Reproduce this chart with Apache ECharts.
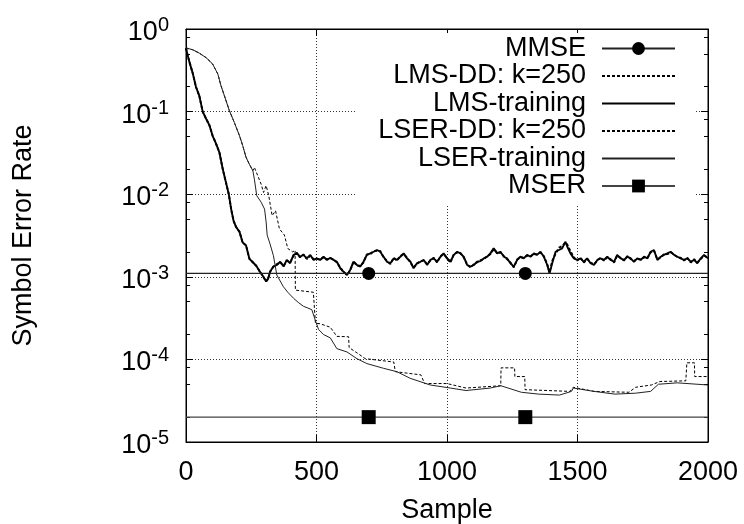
<!DOCTYPE html>
<html>
<head>
<meta charset="utf-8">
<script src="https://cdn.jsdelivr.net/npm/echarts@6/dist/echarts.min.js"></script>
<style>
    html, body { margin: 0; padding: 0; background: #fff; }
    #grafico { width: 744px; height: 524px; }
</style>
</head>
<body>
<div id="grafico"></div>
<script>
// amostras e taxas
const lmsX = [
    0, 5, 13, 26, 38, 51, 64, 77, 90, 102,
    115, 128, 141, 153, 164, 173, 182, 192, 205, 217,
    230, 243, 256, 269, 281, 294, 307, 315, 322, 335,
    348, 361, 374, 386, 399, 412, 425, 437, 450, 463,
    476, 489, 501, 514, 527, 540, 553, 565, 578, 591,
    604, 617, 629, 642, 655, 668, 680, 693, 706, 719,
    732, 744, 757, 770, 783, 796, 808, 821, 834, 847,
    860, 872, 885, 898, 911, 924, 936, 949, 962, 975,
    987, 1000, 1013, 1026, 1039, 1051, 1064, 1077, 1090, 1103,
    1115, 1128, 1141, 1154, 1166, 1179, 1192, 1205, 1218, 1230,
    1243, 1256, 1269, 1281, 1294, 1307, 1320, 1333, 1345, 1358,
    1371, 1384, 1393, 1403, 1416, 1429, 1441, 1454, 1461, 1473,
    1486, 1499, 1512, 1524, 1537, 1550, 1563, 1576, 1588, 1601,
    1614, 1627, 1640, 1652, 1665, 1678, 1691, 1704, 1716, 1729,
    1742, 1755, 1768, 1780, 1793, 1806, 1819, 1831, 1844, 1857,
    1870, 1883, 1895, 1908, 1921, 1934, 1947, 1959, 1972, 1985,
    2000
]
const lmsTreino = [
    0.59, 0.50, 0.40, 0.29, 0.20, 0.155, 0.10, 0.082, 0.068, 0.051,
    0.041, 0.032, 0.020, 0.0139, 0.010, 0.0066, 0.0048, 0.0040, 0.0035, 0.0026,
    0.0024, 0.00165, 0.0015, 0.00136, 0.00118, 0.00103, 0.00088, 0.00095, 1.15e-3, 1.33e-3,
    1.39e-3, 1.52e-3, 1.33e-3, 1.60e-3, 1.46e-3, 1.84e-3, 1.92e-3, 1.75e-3, 1.84e-3, 1.67e-3,
    1.84e-3, 1.60e-3, 1.67e-3, 1.60e-3, 1.75e-3, 1.60e-3, 1.70e-3, 1.60e-3, 1.52e-3, 1.27e-3,
    1.15e-3, 1.05e-3, 1.21e-3, 1.52e-3, 1.39e-3, 1.33e-3, 1.52e-3, 1.84e-3, 1.92e-3, 2.01e-3,
    2.11e-3, 2.01e-3, 1.75e-3, 1.52e-3, 1.46e-3, 1.67e-3, 1.60e-3, 1.75e-3, 1.92e-3, 1.67e-3,
    1.52e-3, 1.27e-3, 1.46e-3, 1.52e-3, 1.60e-3, 1.39e-3, 1.60e-3, 1.67e-3, 1.52e-3, 1.75e-3,
    1.92e-3, 1.67e-3, 1.52e-3, 1.84e-3, 2.01e-3, 1.92e-3, 1.75e-3, 1.39e-3, 1.33e-3, 1.39e-3,
    1.52e-3, 1.55e-3, 1.67e-3, 1.75e-3, 1.92e-3, 2.21e-3, 1.92e-3, 2.01e-3, 1.75e-3, 1.67e-3,
    1.46e-3, 1.33e-3, 1.60e-3, 1.75e-3, 1.67e-3, 1.84e-3, 1.75e-3, 1.92e-3, 1.84e-3, 2.01e-3,
    1.75e-3, 1.39e-3, 1.10e-3, 1.46e-3, 2.01e-3, 2.11e-3, 2.21e-3, 2.66e-3, 2.31e-3, 1.92e-3,
    1.67e-3, 1.60e-3, 1.67e-3, 1.52e-3, 1.67e-3, 1.46e-3, 1.39e-3, 1.60e-3, 1.67e-3, 1.60e-3,
    1.75e-3, 1.60e-3, 1.52e-3, 1.84e-3, 1.67e-3, 1.60e-3, 1.75e-3, 1.67e-3, 1.52e-3, 1.67e-3,
    1.60e-3, 1.75e-3, 1.67e-3, 2.01e-3, 2.11e-3, 1.60e-3, 1.75e-3, 1.84e-3, 1.92e-3, 2.01e-3,
    1.84e-3, 1.75e-3, 1.67e-3, 1.60e-3, 1.67e-3, 1.52e-3, 1.60e-3, 1.46e-3, 1.67e-3, 1.84e-3,
    1.67e-3
]
const lmsDD = [
    0.59, 0.50, 0.40, 0.29, 0.20, 0.155, 0.10, 0.082, 0.068, 0.051,
    0.041, 0.032, 0.020, 0.0139, 0.010, 0.0066, 0.0048, 0.0040, 0.0035, 0.0026,
    0.0024, 0.00165, 0.0015, 0.00136, 0.00118, 0.00103, 0.00088, 0.00095, 1.15e-3, 1.33e-3,
    1.42e-3, 1.49e-3, 1.36e-3, 1.57e-3, 1.49e-3, 1.80e-3, 1.95e-3, 1.72e-3, 1.87e-3, 1.64e-3,
    1.80e-3, 1.63e-3, 1.64e-3, 1.63e-3, 1.72e-3, 1.63e-3, 1.67e-3, 1.63e-3, 1.49e-3, 1.30e-3,
    1.13e-3, 1.07e-3, 1.18e-3, 1.55e-3, 1.36e-3, 1.36e-3, 1.49e-3, 1.87e-3, 1.88e-3, 2.05e-3,
    2.07e-3, 2.05e-3, 1.72e-3, 1.55e-3, 1.43e-3, 1.70e-3, 1.57e-3, 1.78e-3, 1.88e-3, 1.70e-3,
    1.49e-3, 1.30e-3, 1.43e-3, 1.55e-3, 1.57e-3, 1.42e-3, 1.57e-3, 1.70e-3, 1.49e-3, 1.78e-3,
    1.88e-3, 1.70e-3, 1.49e-3, 1.87e-3, 1.97e-3, 1.95e-3, 1.72e-3, 1.42e-3, 1.30e-3, 1.42e-3,
    1.49e-3, 1.58e-3, 1.64e-3, 1.78e-3, 1.88e-3, 2.17e-3, 1.95e-3, 1.97e-3, 1.78e-3, 1.64e-3,
    1.49e-3, 1.30e-3, 1.63e-3, 1.72e-3, 1.70e-3, 1.80e-3, 1.78e-3, 1.88e-3, 1.87e-3, 1.97e-3,
    1.78e-3, 1.42e-3, 1.13e-3, 1.55e-3, 1.90e-3, 2.25e-3, 2.35e-3, 2.60e-3, 2.45e-3, 2.05e-3,
    1.72e-3, 1.57e-3, 1.70e-3, 1.49e-3, 1.64e-3, 1.49e-3, 1.42e-3, 1.57e-3, 1.70e-3, 1.57e-3,
    1.72e-3, 1.63e-3, 1.49e-3, 1.80e-3, 1.70e-3, 1.57e-3, 1.78e-3, 1.64e-3, 1.55e-3, 1.64e-3,
    1.63e-3, 1.72e-3, 1.70e-3, 1.97e-3, 2.07e-3, 1.63e-3, 1.72e-3, 1.87e-3, 1.88e-3, 1.97e-3,
    1.87e-3, 1.72e-3, 1.70e-3, 1.57e-3, 1.70e-3, 1.49e-3, 1.63e-3, 1.49e-3, 1.64e-3, 1.80e-3,
    1.70e-3
]

const lserTreinoX = [
    0, 26, 51, 77, 102, 122, 134, 147, 166, 185,
    205, 217, 230, 243, 256, 262, 271, 288, 301, 307,
    311, 322, 335, 348, 373, 390, 412, 430, 450, 482,
    495, 508, 527, 553, 578, 617, 655, 693, 757, 808,
    859, 936, 1013, 1073, 1166, 1206, 1285, 1351, 1431, 1477,
    1484, 1563, 1643, 1723, 1780, 1810, 1882, 2000
]
const lserTreino = [
    0.59, 0.56, 0.51, 0.45, 0.377, 0.285, 0.206, 0.156, 0.103, 0.074,
    0.051, 0.039, 0.028, 0.023, 0.0193, 0.0152, 0.0096, 0.0080, 0.0066, 0.0046,
    0.0032, 0.0025, 0.0018, 1.05e-3, 7.6e-4, 6.5e-4, 5.5e-4, 4.9e-4, 4.4e-4, 4.0e-4,
    3.0e-4, 2.3e-4, 2.0e-4, 1.82e-4, 1.35e-4, 1.23e-4, 1.02e-4, 8.9e-5, 7.8e-5, 7.1e-5,
    5.9e-5, 4.9e-5, 4.5e-5, 4.2e-5, 4.5e-5, 4.8e-5, 4.0e-5, 3.8e-5, 3.7e-5, 4.1e-5,
    4.5e-5, 4.1e-5, 3.8e-5, 3.9e-5, 4.1e-5, 5.0e-5, 5.2e-5, 4.9e-5
]

const lserDDX = [
    0, 26, 51, 77, 102, 122, 134, 147, 166, 185,
    205, 217, 230, 243, 256, 262, 275, 288, 297, 307,
    317, 330, 343, 358, 377, 390, 409, 418, 419, 488,
    495, 496, 514, 553, 578, 623, 625, 655, 687, 796,
    802, 900, 914, 1000, 1073, 1206, 1207, 1259, 1260, 1298,
    1299, 1471, 1484, 1564, 1697, 1723, 1783, 1816, 1915, 1919,
    1948, 1949, 2000
]
const lserDD = [
    0.59, 0.56, 0.51, 0.45, 0.377, 0.285, 0.206, 0.156, 0.103, 0.074,
    0.051, 0.039, 0.028, 0.023, 0.0193, 0.0211, 0.0167, 0.0132, 0.0105, 0.0127,
    0.0096, 0.0055, 0.0063, 0.0038, 0.0032, 0.0022, 0.0020, 0.0021, 6.9e-4, 6.5e-4,
    6.5e-4, 2.74e-4, 2.7e-4, 2.45e-4, 1.9e-4, 1.88e-4, 1.39e-4, 1.2e-4, 1.02e-4, 9.3e-5,
    7.1e-5, 6.5e-5, 5.1e-5, 5.1e-5, 4.5e-5, 4.8e-5, 7.9e-5, 7.9e-5, 6.2e-5, 6.2e-5,
    4.3e-5, 4.1e-5, 4.6e-5, 4.1e-5, 4.0e-5, 4.6e-5, 4.9e-5, 5.4e-5, 5.5e-5, 9.1e-5,
    9.1e-5, 6.2e-5, 6.2e-5
]

const referenciaX = [0, 700, 1300, 2000]
const comMarcador = [false, true, true, false]
const nivelMMSE = 1.1e-3
const nivelMSER = 2e-5

const ticksX = [0, 500, 1000, 1500, 2000]
const ticksMenores = [
    2e-5, 5e-5, 8e-5, 2e-4, 5e-4, 8e-4, 2e-3, 5e-3, 8e-3,
    2e-2, 5e-2, 8e-2, 0.2, 0.5, 0.8
]
const nomes = ['MMSE', 'LMS-DD: k=250', 'LMS-training', 'LSER-DD: k=250', 'LSER-training', 'MSER']
const nomesComSimbolo = ['MMSE', 'MSER']

const fonte = 'Liberation Sans, Arial, Helvetica, sans-serif'
const tamanho = 27
const pares = (xs, ys) => xs.map((x, i) => [x, ys[i]])
const nivel = (valor) => referenciaX.map((x, i) => comMarcador[i]
    ? [x, valor]
    : { value: [x, valor], symbol: 'none' })

const dom = document.getElementById('grafico')
const myChart = echarts.init(dom, null, { renderer: 'canvas' })

const eixoX = (extra) => Object.assign({
    type: 'value',
    min: ticksX[0],
    max: ticksX[ticksX.length - 1],
    interval: 500,
    axisLine: { show: true, lineStyle: { color: '#000', width: 1 } },
    axisTick: { show: true, inside: true, length: 7, lineStyle: { color: '#000' } },
    splitLine: { show: false },
    axisLabel: { show: false }
}, extra)

const eixoY = (extra) => Object.assign({
    type: 'log',
    logBase: 10,
    min: 1e-5,
    max: 1,
    axisLine: { show: true, lineStyle: { color: '#000', width: 1 } },
    axisTick: { show: true, inside: true, length: 7, lineStyle: { color: '#000' } },
    splitLine: { show: false },
    axisLabel: { show: false }
}, extra)

const tickMenor = { show: true, inside: true, length: 4, customValues: ticksMenores, lineStyle: { color: '#000' } }
const grade = { show: true, lineStyle: { color: '#333', width: 1, type: [1, 2] } }

// so MMSE e MSER mostram simbolo na legenda
const itensLegenda = nomes.map(nome => nomesComSimbolo.includes(nome)
    ? { name: nome }
    : { name: nome, itemStyle: { color: 'rgba(0,0,0,0)', borderWidth: 0, opacity: 0 } })

const option = {
    animation: false,
    backgroundColor: '#fff',
    grid: {
        left: 186, right: 36, top: 29, bottom: 82,
        show: true, borderColor: '#000', borderWidth: 1,
        outerBoundsMode: 'none'
    },
    legend: {
        data: itensLegenda,
        orient: 'vertical',
        align: 'right',
        right: 49,
        top: 33,
        padding: [2, 19, 6, 22],
        backgroundColor: '#fff',
        itemWidth: 73,
        itemHeight: 16,
        itemGap: 0.5,
        selectedMode: false,
        textStyle: { fontSize: tamanho, fontFamily: fonte, color: '#000', padding: [0, 11, 0, 0] }
    },
    xAxis: [
        eixoX({
            position: 'bottom',
            splitLine: grade,
            axisLabel: {
                show: true, fontSize: tamanho, fontFamily: fonte, color: '#000', margin: 17,
                formatter: (v) => String(v)
            },
            name: 'Sample',
            nameLocation: 'middle',
            nameGap: 55,
            nameTextStyle: { fontSize: tamanho, fontFamily: fonte, color: '#000' }
        }),
        eixoX({ position: 'top' })
    ],
    yAxis: [
        eixoY({
            position: 'left',
            splitLine: grade,
            name: 'Symbol Error Rate',
            nameLocation: 'middle',
            nameGap: 149,
            nameTextStyle: { fontSize: tamanho, fontFamily: fonte, color: '#000' },
            axisLabel: {
                show: true,
                margin: 17,
                formatter: (v) => `{b|10}{s|${Math.round(Math.log10(v))}}`,
                rich: {
                    b: { fontSize: tamanho, fontFamily: fonte, color: '#000', lineHeight: 27, padding: [7, 0, 0, 0] },
                    s: { fontSize: 20, fontFamily: fonte, color: '#000', lineHeight: 20, verticalAlign: 'top' }
                }
            }
        }),
        eixoY({ position: 'left', axisLine: { show: false }, axisTick: tickMenor }),
        eixoY({ position: 'right' }),
        eixoY({ position: 'right', axisLine: { show: false }, axisTick: tickMenor })
    ],
    series: [
        {
            name: nomes[0], type: 'line', data: nivel(nivelMMSE),
            symbol: 'circle', symbolSize: 13, showAllSymbol: true,
            itemStyle: { color: '#000' },
            lineStyle: { color: '#222', width: 1.4 },
            emphasis: { disabled: true }, z: 4
        },
        {
            name: nomes[1], type: 'line', data: pares(lmsX, lmsDD), symbol: 'none',
            itemStyle: { color: '#000' },
            lineStyle: { color: '#000', width: 1.9, type: [3, 2] },
            emphasis: { disabled: true }
        },
        {
            name: nomes[2], type: 'line', data: pares(lmsX, lmsTreino), symbol: 'none',
            itemStyle: { color: '#000' },
            lineStyle: { color: '#000', width: 1.9 },
            emphasis: { disabled: true }
        },
        {
            name: nomes[3], type: 'line', data: pares(lserDDX, lserDD), symbol: 'none',
            itemStyle: { color: '#000' },
            lineStyle: { color: '#000', width: 1, type: [3, 2] },
            emphasis: { disabled: true }
        },
        {
            name: nomes[4], type: 'line', data: pares(lserTreinoX, lserTreino), symbol: 'none',
            itemStyle: { color: '#222' },
            lineStyle: { color: '#222', width: 1 },
            emphasis: { disabled: true }
        },
        {
            name: nomes[5], type: 'line', data: nivel(nivelMSER),
            symbol: 'rect', symbolSize: 14, showAllSymbol: true,
            itemStyle: { color: '#000' },
            lineStyle: { color: '#444', width: 1.4 },
            emphasis: { disabled: true }, z: 4
        }
    ]
}

if (option && typeof option === 'object') {
    myChart.setOption(option)
}
</script>
</body>
</html>
